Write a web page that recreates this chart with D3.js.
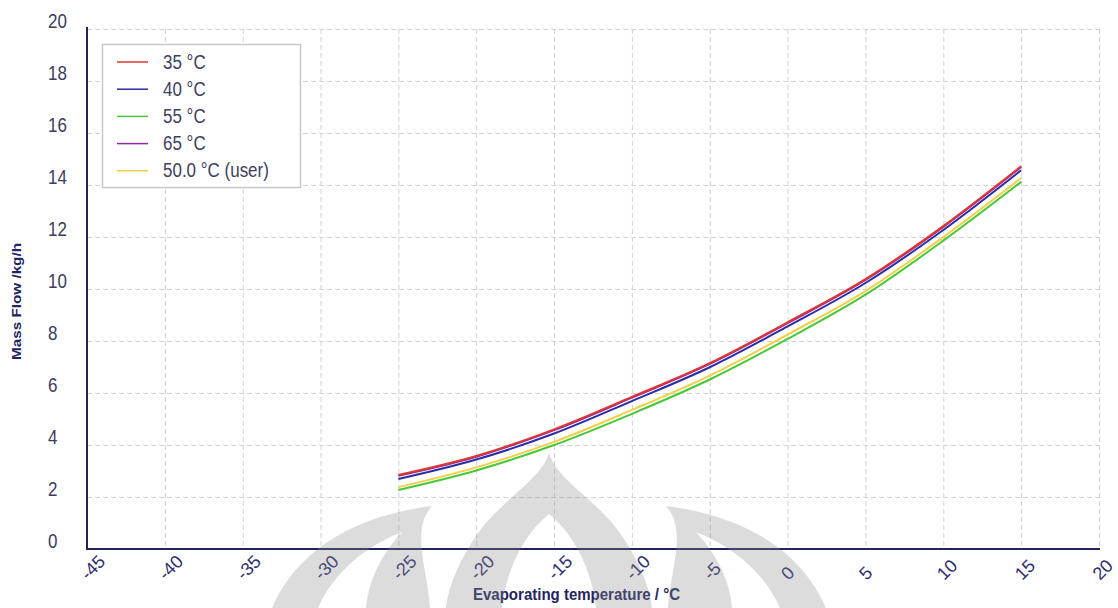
<!DOCTYPE html>
<html>
<head>
<meta charset="utf-8">
<script src="https://cdn.jsdelivr.net/npm/d3@7"></script>
<style>
  html, body { margin: 0; padding: 0; background: #fff; }
  svg { display: block; font-family: "Liberation Sans", Arial, sans-serif; }
</style>
</head>
<body>
<svg id="chart" width="1118" height="608"></svg>
<script>
// Evaporating temperature (°C) at which mass flow was evaluated
const temps = [-25, -20, -15, -10, -5, 0, 5, 10, 15];

// Mass flow (kg/h) per condensing temperature
const flow35 = [2.85, 3.58, 4.60, 5.85, 7.15, 8.72, 10.38, 12.42, 14.72];
const flow40 = [2.69, 3.44, 4.44, 5.69, 6.99, 8.56, 10.23, 12.27, 14.57];
const flow55 = [2.27, 3.02, 4.00, 5.20, 6.52, 8.08, 9.78, 11.86, 14.12];
const flow65 = [2.82, 3.55, 4.57, 5.82, 7.12, 8.69, 10.35, 12.39, 14.69];
const flow50 = [2.38, 3.14, 4.12, 5.35, 6.67, 8.25, 9.92, 12.00, 14.27];

const seriesNames  = ["35 °C", "40 °C", "55 °C", "65 °C", "50.0 °C (user)"];
const seriesValues = [flow35, flow40, flow55, flow65, flow50];
const seriesColors = ["#e03434", "#2c2ca6", "#48c838", "#8c2c9c", "#f0d048"];
// painting order of the curves (65 °C underneath, 35 °C on top)
const drawOrder = [3, 2, 4, 1, 0];

const xTicks = [-45, -40, -35, -30, -25, -20, -15, -10, -5, 0, 5, 10, 15, 20];
const yTicks = [0, 2, 4, 6, 8, 10, 12, 14, 16, 18, 20];

const svg = d3.select("#chart");
const x = d3.scaleLinear().domain([-45, 20]).range([87, 1099]);
const y = d3.scaleLinear().domain([0, 20]).range([549, 29]);

// dashed grid
const grid = svg.append("g").attr("stroke", "#d2d2d2").attr("stroke-width", 1)
  .attr("stroke-dasharray", "5,3").attr("fill", "none");
grid.selectAll("line.h").data(yTicks.filter(d => d > 0)).join("line")
  .attr("class", "h")
  .attr("x1", x(-45)).attr("x2", x(20))
  .attr("y1", d => y(d) + 0.5).attr("y2", d => y(d) + 0.5);
grid.selectAll("line.v").data(xTicks.filter(d => d > -45)).join("line")
  .attr("class", "v")
  .attr("x1", d => x(d) + 0.5).attr("x2", d => x(d) + 0.5)
  .attr("y1", y(20)).attr("y2", y(0));

// curves
const line = d3.line().curve(d3.curveMonotoneX)
  .x((d, i) => x(temps[i])).y(d => y(d));
svg.append("g").selectAll("path").data(drawOrder).join("path")
  .attr("d", k => line(seriesValues[k]))
  .attr("fill", "none")
  .attr("stroke", k => seriesColors[k])
  .attr("stroke-width", 2)
  .attr("stroke-linejoin", "round");

// axis lines
const axisColor = "#22225c";
svg.append("line").attr("x1", x(-45)).attr("x2", x(-45))
  .attr("y1", y(20) - 2).attr("y2", y(0) + 1)
  .attr("stroke", axisColor).attr("stroke-width", 2);
svg.append("line").attr("x1", x(-45) - 1).attr("x2", x(20) + 1)
  .attr("y1", y(0)).attr("y2", y(0))
  .attr("stroke", axisColor).attr("stroke-width", 2);

// y tick labels
svg.append("g").selectAll("text").data(yTicks).join("text")
  .attr("transform", d => `translate(48,${y(d) - 1}) scale(1,1.15)`)
  .attr("font-size", 17)
  .attr("fill", "#3c3c5c")
  .text(d => d);

// x tick labels, rotated
svg.append("g").selectAll("text").data(xTicks).join("text")
  .attr("transform", d => `translate(${x(d) + 1},581) rotate(-45)`)
  .attr("font-size", 18)
  .attr("fill", "#2e2e6e")
  .text(d => d);

// axis titles
svg.append("text")
  .attr("x", 473).attr("y", 600)
  .attr("font-size", 16).attr("font-weight", "bold")
  .attr("fill", "#24245e")
  .attr("textLength", 207).attr("lengthAdjust", "spacingAndGlyphs")
  .text("Evaporating temperature / °C");
svg.append("text")
  .attr("transform", "translate(21,360) rotate(-90)")
  .attr("font-size", 12).attr("font-weight", "bold")
  .attr("fill", "#24245e")
  .attr("textLength", 117).attr("lengthAdjust", "spacingAndGlyphs")
  .text("Mass Flow /kg/h");

// legend
const legend = svg.append("g");
legend.append("rect").attr("x", 102.5).attr("y", 44.5).attr("width", 198).attr("height", 143)
  .attr("fill", "#fff").attr("stroke", "#c8c8c8").attr("stroke-width", 1.5);
const rows = legend.selectAll("g").data(seriesNames).join("g")
  .attr("transform", (d, i) => `translate(0,${62 + i * 27.2})`);
rows.append("line").attr("x1", 117).attr("x2", 148).attr("y1", 0).attr("y2", 0)
  .attr("stroke", (d, i) => seriesColors[i]).attr("stroke-width", 1.5);
rows.append("text")
  .attr("transform", "translate(163,6.5) scale(1,1.15)")
  .attr("font-size", 17).attr("fill", "#40405e")
  .text(d => d);

// faint emblem in the lower middle of the page
const cx = 549;
const mirror = p => p.replace(/(-?\d+(?:\.\d+)?),(-?\d+(?:\.\d+)?)/g,
  (m, a, b) => `${(2 * cx - +a).toFixed(1)},${b}`);
const dome = "M549,452 C554,478 598,500 622,536 C642,566 650,590 652,608 L446,608 C448,590 456,566 476,536 C500,500 544,478 549,452 Z " +
             "M549,514 C574,534 592,570 596,608 L502,608 C506,570 524,534 549,514 Z";
const wing = "M272,608 C296,552 352,516 432,506 C410,530 428,570 430,608 Z " +
             "M318,608 C334,572 366,546 402,532 C380,556 368,582 366,608 Z";
const emblem = svg.append("g").attr("fill", "#8a8a8a").attr("fill-opacity", 0.3)
  .attr("fill-rule", "evenodd");
emblem.append("path").attr("d", dome);
emblem.append("path").attr("d", wing);
emblem.append("path").attr("d", mirror(wing));
</script>
</body>
</html>
